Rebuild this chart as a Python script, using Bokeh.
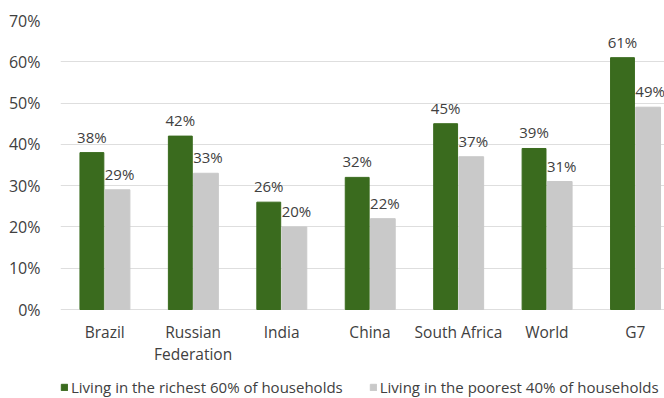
from bokeh.plotting import figure
from bokeh.models import ColumnDataSource, Legend, LegendItem, FixedTicker, Range1d, LabelSet
from bokeh.core.properties import value
from bokeh.embed import file_html
from bokeh.resources import INLINE

categories = ["Brazil", "Russian\nFederation", "India", "China", "South Africa", "World", "G7"]
richest = [38, 42, 26, 32, 45, 39, 61]
poorest = [29, 33, 20, 22, 37, 31, 49]
y_ticks = [0, 10, 20, 30, 40, 50, 60, 70]
series_names = ["Living in the richest 60% of households", "Living in the poorest 40% of households"]

FONT = "Open Sans"
GREEN = "#3a6b1e"
GRAY = "#c9c9c9"
TXT = "#404040"

xs = list(range(len(categories)))
off = 0.145
src = ColumnDataSource(dict(
    x=xs,
    base=[0] * len(xs),
    cat=categories,
    xr=[x - off for x in xs],
    xp=[x + off for x in xs],
    r=richest,
    p=poorest,
    rl=[f"{v}%" for v in richest],
    pl=[f"{v}%" for v in poorest],
))

# frame spans whole height below the top margin; 0..70 occupies the top 289 px
y_bottom = -70 * 89 / 289
p = figure(width=664, height=398, output_backend="svg", toolbar_location=None,
           x_range=Range1d(-0.5, 6.33), y_range=Range1d(y_bottom, 70),
           min_border_left=60, min_border_right=0, min_border_top=20, min_border_bottom=0)
p.outline_line_color = None
p.background_fill_color = "white"
p.xaxis.visible = False

r1 = p.vbar(x="xr", top="r", width=0.27, source=src, color=GREEN)
r2 = p.vbar(x="xp", top="p", width=0.28, source=src, color=GRAY)

for xcol, ycol, tcol, dx in (("xr", "r", "rl", 0), ("xp", "p", "pl", 2)):
    p.add_layout(LabelSet(x=xcol, y=ycol, text=tcol, source=src, text_align="center",
                          text_baseline="bottom", y_offset=6, x_offset=dx, text_font=value(FONT),
                          text_font_size="15px", text_color=TXT))

# category labels under the bars
p.text(x="x", y="base", text="cat", source=src, text_align="center", text_baseline="top",
       y_offset=11, text_font=value(FONT), text_font_size="15.5px", text_color=TXT,
       text_line_height=1.0)

p.yaxis.ticker = FixedTicker(ticks=y_ticks)
p.yaxis.major_label_overrides = {v: f"{v}%" for v in y_ticks}
p.yaxis.axis_line_color = None
p.yaxis.major_tick_line_color = None
p.yaxis.minor_tick_line_color = None
p.yaxis.major_label_text_font = FONT
p.yaxis.major_label_text_font_size = "16px"
p.yaxis.major_label_text_color = TXT
p.yaxis.major_label_standoff = 14

p.xgrid.grid_line_color = None
p.ygrid.ticker = FixedTicker(ticks=y_ticks)
p.ygrid.grid_line_color = "#dedede"

legend = Legend(items=[LegendItem(label=series_names[0], renderers=[r1]),
                       LegendItem(label=series_names[1], renderers=[r2])],
                orientation="horizontal", location=(0, 1),
                label_text_font=FONT, label_text_font_size="15px", label_text_color=TXT,
                glyph_width=8, glyph_height=8, spacing=26, label_standoff=3,
                border_line_color=None, background_fill_alpha=0,
                margin=0, padding=0)
p.add_layout(legend, "center")

open("out.html", "w").write(file_html(p, INLINE))
